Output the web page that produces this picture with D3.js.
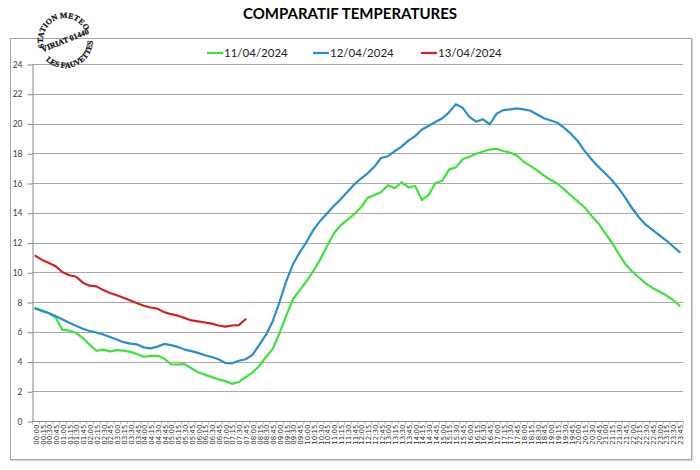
<!DOCTYPE html>
<html><head><meta charset="utf-8">
<script src="https://cdn.jsdelivr.net/npm/d3@7"></script>
<style>body{margin:0;background:#fff}svg{display:block}</style>
</head><body>
<svg id="c" width="700" height="470"></svg>
<script>
const chartTitle = "COMPARATIF TEMPERATURES";
const seriesNames = ["11/04/2024", "12/04/2024", "13/04/2024"];
const seriesColors = ["#3de23a", "#2a8dd0", "#d02424"];
const stampTop = "STATION METEO";
const stampMiddle = "VIRIAT 01440";
const stampBottom = "LES FAUVETTES";
const yTicks = [0, 2, 4, 6, 8, 10, 12, 14, 16, 18, 20, 22, 24];
const times = [
 "00:00","00:15","00:30","00:45","01:00","01:15","01:30","01:45",
 "02:00","02:15","02:30","02:45","03:00","03:15","03:30","03:45",
 "04:00","04:15","04:30","04:45","05:00","05:15","05:30","05:45",
 "06:00","06:15","06:30","06:45","07:00","07:15","07:30","07:45",
 "08:00","08:15","08:30","08:45","09:00","09:15","09:30","09:45",
 "10:00","10:15","10:30","10:45","11:00","11:15","11:30","11:45",
 "12:00","12:15","12:30","12:45","13:00","13:15","13:30","13:45",
 "14:00","14:15","14:30","14:45","15:00","15:15","15:30","15:45",
 "16:00","16:15","16:30","16:45","17:00","17:15","17:30","17:45",
 "18:00","18:15","18:30","18:45","19:00","19:15","19:30","19:45",
 "20:00","20:15","20:30","20:45","21:00","21:15","21:30","21:45",
 "22:00","22:15","22:30","22:45","23:00","23:15","23:30","23:45"
];
const temp1104 = [
 7.6, 7.42, 7.25, 6.95, 6.12, 6.08, 5.92, 5.58,
 5.13, 4.72, 4.8, 4.68, 4.76, 4.73, 4.65, 4.5,
 4.32, 4.38, 4.38, 4.2, 3.8, 3.8, 3.82, 3.55,
 3.28, 3.12, 2.95, 2.8, 2.68, 2.5, 2.62, 2.95,
 3.25, 3.7, 4.3, 4.85, 5.9, 7.1, 8.2, 8.8,
 9.4, 10.1, 10.85, 11.75, 12.6, 13.15, 13.52, 13.9,
 14.35, 15.0, 15.2, 15.4, 15.85, 15.65, 16.05, 15.7,
 15.8, 14.85, 15.2, 16.0, 16.15, 16.9, 17.05, 17.6,
 17.76, 17.97, 18.12, 18.25, 18.3, 18.15, 18.05, 17.85,
 17.43, 17.15, 16.85, 16.5, 16.2, 15.95, 15.55, 15.15,
 14.75, 14.35, 13.8, 13.3, 12.65, 12.0, 11.25, 10.55,
 10.05, 9.65, 9.25, 8.95, 8.7, 8.45, 8.15, 7.75
];
const temp1204 = [
 7.55, 7.4, 7.25, 7.05, 6.82, 6.6, 6.4, 6.2,
 6.05, 5.95, 5.82, 5.65, 5.48, 5.3, 5.2, 5.15,
 4.95, 4.88, 5.0, 5.18, 5.1, 4.98, 4.8, 4.7,
 4.58, 4.42, 4.3, 4.15, 3.9, 3.88, 4.05, 4.15,
 4.45, 5.1, 5.8, 6.7, 8.0, 9.4, 10.55, 11.35,
 12.05, 12.85, 13.45, 13.95, 14.45, 14.9, 15.4, 15.9,
 16.3, 16.65, 17.1, 17.7, 17.8, 18.15, 18.45, 18.85,
 19.15, 19.6, 19.85, 20.1, 20.35, 20.75, 21.3, 21.05,
 20.45, 20.12, 20.28, 19.95, 20.65, 20.9, 20.95, 21.02,
 20.95, 20.86, 20.6, 20.35, 20.2, 20.05, 19.7, 19.3,
 18.8, 18.15, 17.6, 17.1, 16.65, 16.2, 15.65, 15.0,
 14.3, 13.7, 13.2, 12.85, 12.5, 12.15, 11.75, 11.35
];
const temp1304 = [
 11.1, 10.83, 10.62, 10.4, 10.0, 9.8, 9.7, 9.3,
 9.1, 9.05, 8.8, 8.6, 8.45, 8.28, 8.1, 7.92,
 7.75, 7.63, 7.55, 7.32, 7.18, 7.08, 6.93, 6.76,
 6.7, 6.62, 6.55, 6.42, 6.35, 6.42, 6.45, 6.84
];
const seriesData = [temp1104, temp1204, temp1304];

const svg = d3.select("#c");
const font = "Lato, 'Open Sans', sans-serif";

// chart frame
svg.append("rect").attr("x", 11.5).attr("y", 39.5).attr("width", 681).attr("height", 421)
  .attr("fill", "none").attr("stroke", "#d8d8d8").attr("stroke-width", 1.5);
svg.append("rect").attr("x", 10.5).attr("y", 38.5).attr("width", 681).attr("height", 421)
  .attr("fill", "#fff").attr("stroke", "#a6a6a6").attr("stroke-width", 1);

// title
svg.append("text").attr("x", 350).attr("y", 19).attr("text-anchor", "middle")
  .attr("font-family", font).attr("font-weight", "bold").attr("font-size", 15)
  .attr("fill", "#000").text(chartTitle);

const x = d3.scalePoint().domain(times).range([32, 683]).padding(0.5);
const y = d3.scaleLinear().domain([0, 24]).range([421, 64]);

// gridlines
svg.append("g").selectAll("line").data(yTicks.filter(t => t > 0)).join("line")
  .attr("x1", 32).attr("x2", 683)
  .attr("y1", d => Math.round(y(d)) + 0.5).attr("y2", d => Math.round(y(d)) + 0.5)
  .attr("stroke", "#a8a8a8").attr("stroke-width", 1);

// y axis
const gy = svg.append("g").attr("transform", "translate(32.5,0.5)")
  .call(d3.axisLeft(y).tickValues(yTicks).tickSize(5).tickSizeOuter(0).tickPadding(5));
gy.select(".domain").attr("stroke", "#888");
gy.selectAll(".tick line").attr("stroke", "#888");
gy.selectAll(".tick text").attr("font-family", font).attr("font-size", 8.5).attr("fill", "#404040");

// x axis
const gx = svg.append("g").attr("transform", "translate(0.5,421.5)")
  .call(d3.axisBottom(x).tickSize(0).tickSizeOuter(0));
gx.select(".domain").attr("stroke", "#888").attr("d", "M31.5,0H682.5");
gx.selectAll(".tick text")
  .attr("transform", "rotate(-90)").attr("x", -3).attr("y", 0).attr("dy", "0.34em")
  .attr("text-anchor", "end").attr("font-family", "'DejaVu Sans', sans-serif")
  .attr("font-size", 7).attr("fill", "#333");
// category boundary tick marks
const step = x.step();
gx.append("g").selectAll("line").data(d3.range(times.length + 1)).join("line")
  .attr("x1", i => 32 + i * step).attr("x2", i => 32 + i * step)
  .attr("y1", 0).attr("y2", 3).attr("stroke", "#999").attr("stroke-width", 0.7);

// lines
const line = d3.line().x((d, i) => x(times[i])).y(d => y(d)).curve(d3.curveLinear);
seriesData.forEach((s, k) => {
  svg.append("path").datum(s).attr("d", line).attr("fill", "none")
    .attr("stroke", seriesColors[k]).attr("stroke-width", 2.2)
    .attr("stroke-linejoin", "round").attr("stroke-linecap", "round");
});

// legend
const legendX = [207, 313, 421];
const lg = svg.append("g");
seriesNames.forEach((n, k) => {
  lg.append("line").attr("x1", legendX[k]).attr("x2", legendX[k] + 16)
    .attr("y1", 53).attr("y2", 53).attr("stroke", seriesColors[k]).attr("stroke-width", 2.2);
  lg.append("text").attr("x", legendX[k] + 17).attr("y", 53).attr("dy", "0.35em")
    .attr("font-family", font).attr("font-size", 11.5).attr("fill", "#222").text(n);
});

// stamp
const st = svg.append("g").attr("transform", "translate(65,40) rotate(-22)");
const r1 = 22, r2 = 28;
st.append("path").attr("id", "arcTop").attr("fill", "none")
  .attr("d", `M${-r1},0 A${r1},${r1} 0 0 1 ${r1},0`);
st.append("path").attr("id", "arcBot").attr("fill", "none")
  .attr("d", `M${-r2},0 A${r2},${r2} 0 0 0 ${r2},0`);
const stampFont = "'Liberation Serif', 'DejaVu Serif', serif";
const stampStyle = t => t.attr("font-family", stampFont).attr("font-weight", "bold")
  .attr("font-size", 8).attr("fill", "#111").attr("stroke", "#111").attr("stroke-width", 0.25);
st.append("text").call(stampStyle)
  .append("textPath").attr("href", "#arcTop").attr("startOffset", "50%")
  .attr("text-anchor", "middle").text(stampTop);
st.append("text").call(stampStyle)
  .append("textPath").attr("href", "#arcBot").attr("startOffset", "50%")
  .attr("text-anchor", "middle").text(stampBottom);
st.append("text").call(stampStyle).attr("x", 0).attr("y", 3).attr("text-anchor", "middle")
  .text(stampMiddle);
</script>
</body></html>
